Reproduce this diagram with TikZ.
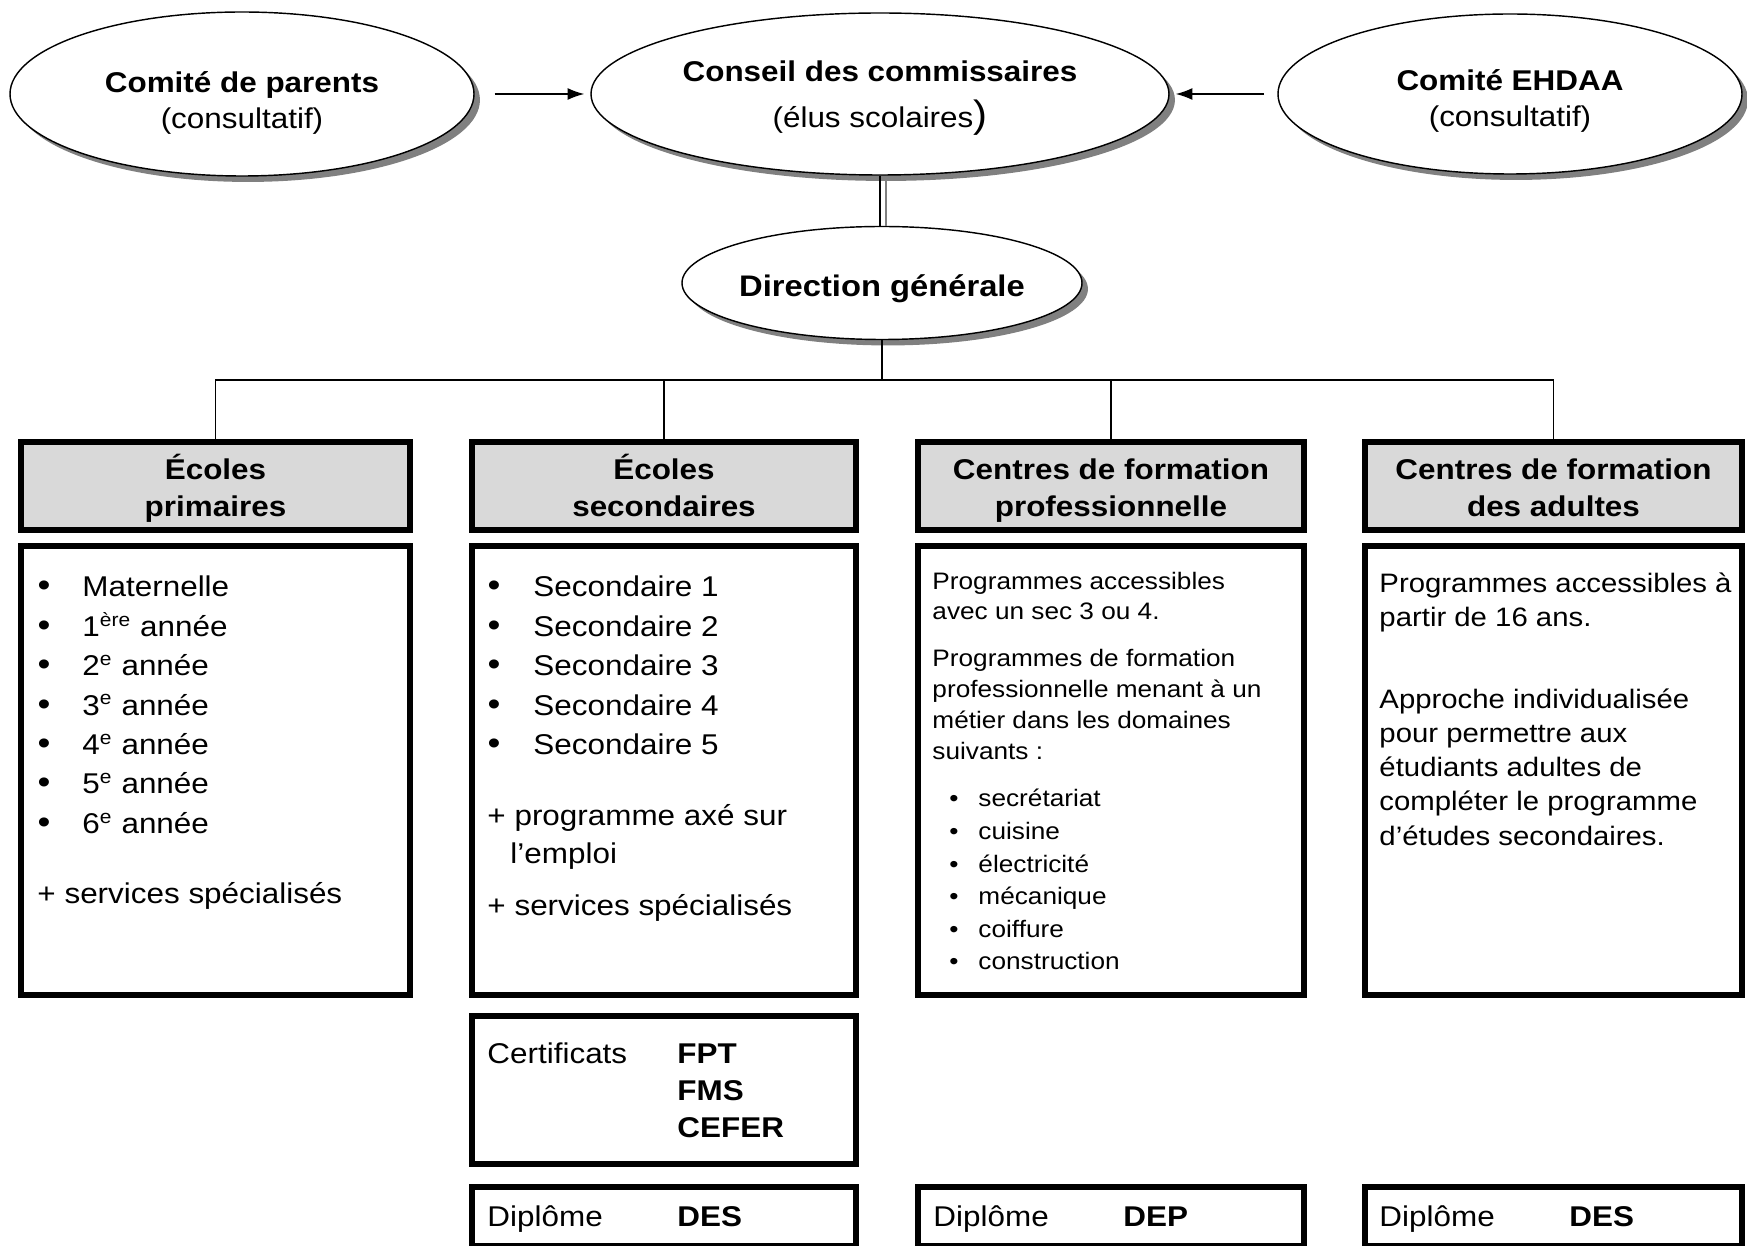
\documentclass[tikz,border=0pt]{standalone}
\usepackage{fontspec}
\setmainfont{Liberation Sans}[FakeStretch=1.1]
\usepackage{tikz}
\usetikzlibrary{shapes.geometric,shadows,arrows.meta}

\definecolor{headgray}{RGB}{217,217,217}
\newcommand{\pxu}{0.42pt}
\newcommand{\bodyfont}{\fontsize{12}{14.4}\selectfont}
\newcommand{\smalltext}{\fontsize{10}{12}\selectfont}
\newcommand{\topstrut}{\rule{0pt}{14.5pt}}

\tikzset{
  oval/.style={ellipse, draw, line width=0.6pt, fill=white, inner sep=0pt,
    drop shadow={shadow xshift=2.5pt, shadow yshift=-2.5pt, opacity=1, fill=black!50}},
  ovaltext/.style={inner sep=0pt, align=center, font=\fontsize{12}{15}\selectfont},
  headbox/.style={rectangle, draw, line width=2.5pt, fill=headgray, inner sep=0pt,
    minimum height=88*\pxu, align=center, font=\bfseries\fontsize{12}{15.5}\selectfont},
  bodybox/.style={rectangle, draw, line width=2.5pt, inner sep=0pt},
  link/.style={line width=0.6pt},
  arr/.style={line width=0.6pt, -{Latex[length=7pt,width=5pt]}},
  txt/.style={anchor=base west, inner sep=0pt, font=\bodyfont},
  btxt/.style={txt, font=\bodyfont\bfseries},
  stxt/.style={txt, font=\smalltext},
  atxt/.style={txt, font=\fontsize{11.2}{13.4}\selectfont},
  bul/.style={anchor=base, inner sep=0pt, font=\fontsize{14}{14}\selectfont},
  sbul/.style={anchor=base, inner sep=0pt, font=\smalltext},
}

\begin{document}
\begin{tikzpicture}[x=\pxu, y=-\pxu]
\useasboundingbox (0,0) rectangle (1747,1246);

\node[oval, minimum width=464*\pxu, minimum height=164*\pxu] (pc) at (242,94) {};
\node[ovaltext] (pct) at (242,103) {{\bfseries Comité de parents}\\(consultatif)};
\node[oval, minimum width=578*\pxu, minimum height=162*\pxu] (cc) at (880,94) {};
\node[ovaltext] (cct) at (880,98) {{\bfseries Conseil des commissaires}\\[4.5pt](élus scolaires{\fontsize{16}{16}\selectfont)}};
\node[oval, minimum width=464*\pxu, minimum height=160*\pxu] (eh) at (1510,94) {};
\node[ovaltext] (eht) at (1510,101) {{\bfseries Comité EHDAA}\\(consultatif)};
\node[oval, minimum width=400*\pxu, minimum height=113*\pxu] (dg) at (882,283) {};
\node[ovaltext, font=\bfseries\fontsize{12.5}{15}\selectfont] (dgt) at (882,289) {Direction générale};

\draw[arr, shorten <=8.4pt, shorten >=2.5pt] (pc) -- (cc);
\draw[arr, shorten <=5.5pt, shorten >=2.5pt] (eh) -- (cc);
\draw[link, black!50] ([xshift=2.5pt]cc.south) -- ([xshift=2.5pt]cc.south |- dg.north);
\draw[link] (cc.south) -- (cc.south |- dg.north);

\node[headbox, minimum width=389*\pxu] (h1) at (215.5,486) {\topstrut Écoles\\primaires\strut};
\node[headbox, minimum width=384*\pxu] (h2) at (664,486) {\topstrut Écoles\\secondaires\strut};
\node[headbox, minimum width=386*\pxu] (h3) at (1111,486) {\topstrut Centres de formation\\professionnelle\strut};
\node[headbox, minimum width=377*\pxu] (h4) at (1553.5,486) {\topstrut Centres de formation\\des adultes\strut};

\draw[link] (dg.south) -- ++(0,40) coordinate (bar);
\draw[link] (h1.north) |- (bar) -| (h4.north);
\foreach \h in {h2,h3} \draw[link] (\h.north) -- (\h.north |- bar);

\node[bodybox, minimum width=389*\pxu, minimum height=449*\pxu] (b1) at (215.5,770.5) {};
\node[bodybox, minimum width=384*\pxu, minimum height=449*\pxu] (b2) at (664,770.5) {};
\node[bodybox, minimum width=386*\pxu, minimum height=449*\pxu] (b3) at (1111,770.5) {};
\node[bodybox, minimum width=377*\pxu, minimum height=449*\pxu] (b4) at (1553.5,770.5) {};

\foreach \t [count=\i from 0] in {Maternelle, 1\textsuperscript{ère} année, 2\textsuperscript{e} année, 3\textsuperscript{e} année, 4\textsuperscript{e} année, 5\textsuperscript{e} année, 6\textsuperscript{e} année}{
  \node[bul] (pb\i) at (44,597+39.4*\i) {\textbullet};
  \node[txt] (pt\i) at (82,597+39.4*\i) {\t};
}
\node[txt] (pserv) at (37,904) {+ services spécialisés};

\foreach \i in {1,...,5}{
  \node[bul] (sb\i) at (494,557.6+39.4*\i) {\textbullet};
  \node[txt] (st\i) at (533,557.6+39.4*\i) {Secondaire \i};
}
\node[txt] (sprog) at (487,826) {+ programme axé sur};
\node[txt] (semp) at (510,864) {l’emploi};
\node[txt] (sserv) at (487,916) {+ services spécialisés};

\foreach \t/\y [count=\i] in {Programmes accessibles/590, avec un sec 3 ou 4./620, Programmes de formation/667, professionnelle menant à un/698, métier dans les domaines/729, suivants :/760}
  \node[stxt] (fp\i) at (932,\y) {\t};
\foreach \t [count=\i from 0] in {secrétariat, cuisine, électricité, mécanique, coiffure, construction}{
  \node[sbul] (fb\i) at (954,807+32.6*\i) {\textbullet};
  \node[stxt] (ft\i) at (978,807+32.6*\i) {\t};
}

\foreach \t/\y [count=\i] in {Programmes accessibles à/593, partir de 16 ans./627, Approche individualisée/709, pour permettre aux/743, étudiants adultes de/777, compléter le programme/811, d’études secondaires./846}
  \node[atxt] (ap\i) at (1379,\y) {\t};

\node[bodybox, minimum width=384*\pxu, minimum height=148*\pxu] (cert) at (664,1090) {};
\node[txt] (certl) at (487,1063) {Certificats};
\foreach \t/\y in {FPT/1063, FMS/1100, CEFER/1137}
  \node[btxt] (c\t) at (677,\y) {\t};

\node[bodybox, minimum width=384*\pxu, minimum height=59*\pxu] (d2) at (664,1216.5) {};
\node[bodybox, minimum width=386*\pxu, minimum height=59*\pxu] (d3) at (1111,1216.5) {};
\node[bodybox, minimum width=377*\pxu, minimum height=59*\pxu] (d4) at (1553.5,1216.5) {};
\foreach \x/\d [count=\i] in {487/DES, 933/DEP, 1379/DES}{
  \node[txt] (dl\i) at (\x,1226) {Diplôme};
  \node[btxt] (dv\i) at (\x+190,1226) {\d};
}
\end{tikzpicture}
\end{document}
